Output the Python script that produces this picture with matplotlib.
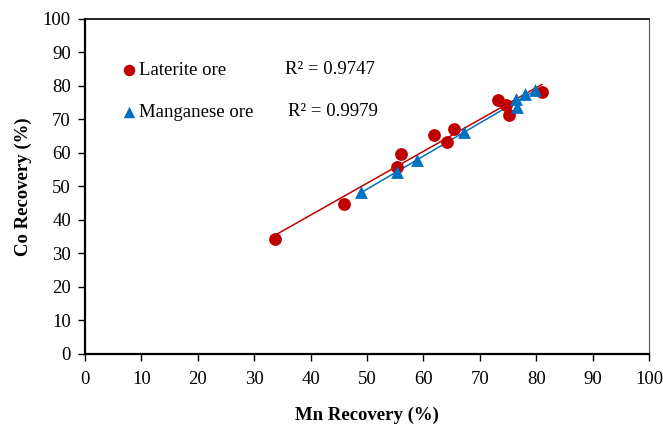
import numpy as np
import matplotlib
matplotlib.use("Agg")
import matplotlib.pyplot as plt

plt.rcParams['font.family'] = ['Liberation Serif', 'DejaVu Serif']

# Laterite ore data
lat_mn = [33.7, 45.9, 55.3, 56.0, 61.9, 64.2, 65.4, 73.3, 74.6, 75.2, 81.0]
lat_co = [34.2, 44.7, 55.9, 59.7, 65.4, 63.4, 67.1, 75.8, 74.4, 71.3, 78.3]

# Manganese ore data
man_mn = [49.0, 55.4, 58.8, 67.2, 76.6, 76.5, 78.0, 79.7]
man_co = [48.3, 54.4, 57.9, 66.1, 73.6, 76.1, 77.5, 78.8]

lat_r2 = "R² = 0.9747"
man_r2 = "R² = 0.9979"

red = '#C00000'
blue = '#0070C0'

fig = plt.figure(figsize=(6.63, 4.29), dpi=100)
ax = fig.add_axes([0.128, 0.175, 0.851, 0.781])

# trend lines
p1 = np.polyfit(lat_mn, lat_co, 1)
xs1 = np.array([min(lat_mn), max(lat_mn)])
ax.plot(xs1, np.polyval(p1, xs1), color=red, lw=1.1, zorder=2)
p2 = np.polyfit(man_mn, man_co, 1)
xs2 = np.array([min(man_mn), max(man_mn)])
ax.plot(xs2, np.polyval(p2, xs2), color=blue, lw=1.1, zorder=2)

ax.scatter(lat_mn, lat_co, s=85, color=red, marker='o', label='Laterite ore', zorder=3, linewidths=0)
ax.scatter(man_mn, man_co, s=85, color=blue, marker='^', label='Manganese ore', zorder=3, linewidths=0)

ax.text(35.5, 85, lat_r2, fontsize=13.5, va='center')
ax.text(36.0, 72.3, man_r2, fontsize=13.5, va='center')

ax.legend(loc='upper left', bbox_to_anchor=(0.055, 0.895), frameon=False, fontsize=13.5,
          handlelength=0.6, handletextpad=0.25, labelspacing=1.35, borderaxespad=0,
          scatterpoints=1, markerscale=0.9)

ax.set_xlim(0, 100)
ax.set_ylim(0, 100)
ax.set_xticks(np.arange(0, 101, 10))
ax.set_yticks(np.arange(0, 101, 10))
ax.tick_params(labelsize=13.5, direction='out', length=5, width=1, colors='black', pad=5)
ax.tick_params(axis='x', pad=7)

ax.spines['left'].set_linewidth(1.6)
ax.spines['bottom'].set_linewidth(1.6)
ax.spines['top'].set_linewidth(1.2)
ax.spines['right'].set_linewidth(0.8)
ax.spines['right'].set_color('#555555')

ax.set_xlabel('Mn Recovery (%)', fontsize=13.5, fontweight='bold', labelpad=14)
ax.set_ylabel('Co Recovery (%)', fontsize=13.5, fontweight='bold', labelpad=8)

fig.savefig('out.png', dpi=100)
